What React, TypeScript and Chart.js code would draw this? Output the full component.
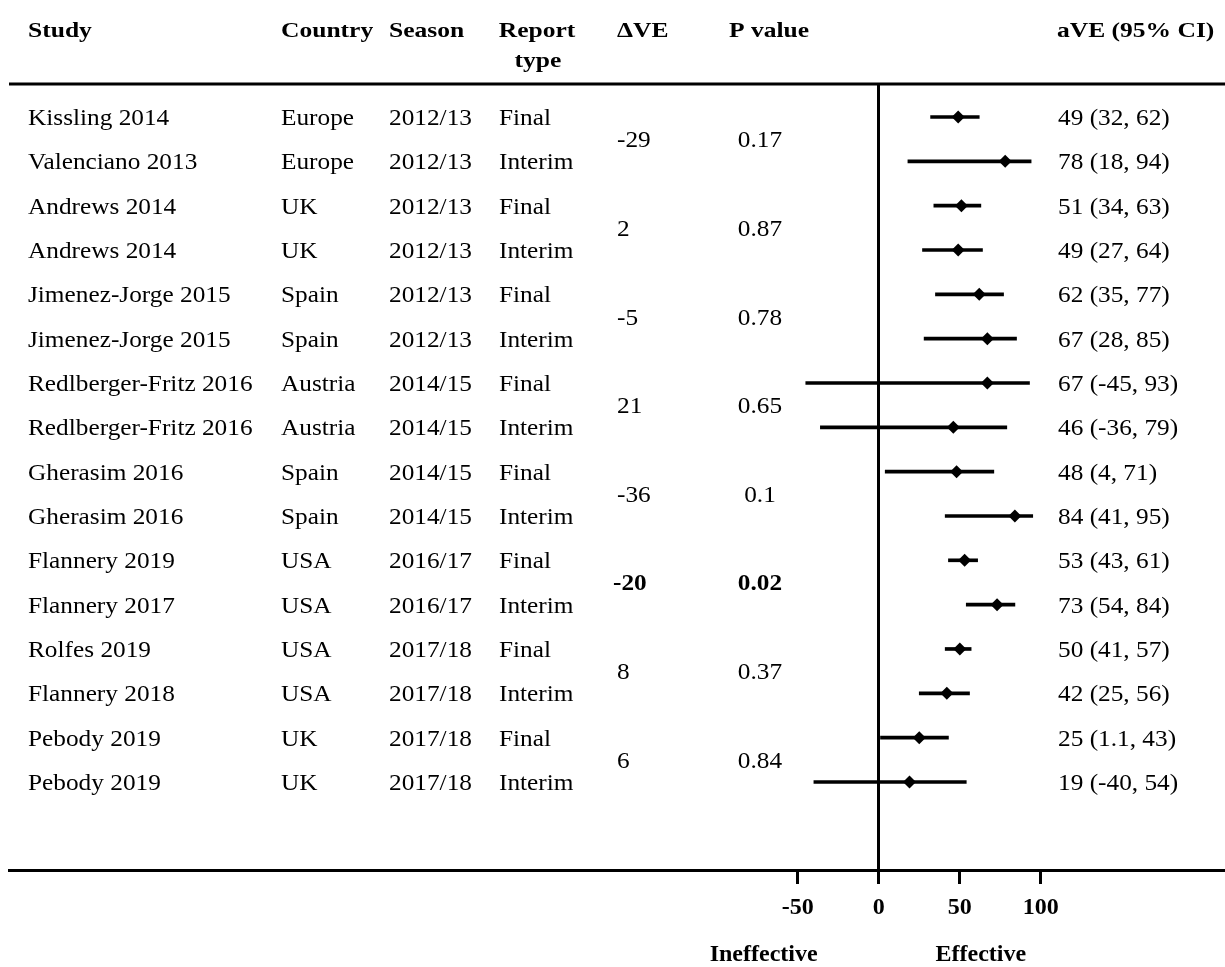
import React, { useEffect, useRef } from 'react';
import { Chart, registerables } from 'chart.js';

Chart.register(...registerables);

// ---------- data ----------
const studies = [
  'Kissling 2014', 'Valenciano 2013', 'Andrews 2014', 'Andrews 2014',
  'Jimenez-Jorge 2015', 'Jimenez-Jorge 2015', 'Redlberger-Fritz 2016', 'Redlberger-Fritz 2016',
  'Gherasim 2016', 'Gherasim 2016', 'Flannery 2019', 'Flannery 2017',
  'Rolfes 2019', 'Flannery 2018', 'Pebody 2019', 'Pebody 2019',
];
const countries = [
  'Europe', 'Europe', 'UK', 'UK', 'Spain', 'Spain', 'Austria', 'Austria',
  'Spain', 'Spain', 'USA', 'USA', 'USA', 'USA', 'UK', 'UK',
];
const seasons = [
  '2012/13', '2012/13', '2012/13', '2012/13', '2012/13', '2012/13', '2014/15', '2014/15',
  '2014/15', '2014/15', '2016/17', '2016/17', '2017/18', '2017/18', '2017/18', '2017/18',
];
const reportTypes = [
  'Final', 'Interim', 'Final', 'Interim', 'Final', 'Interim', 'Final', 'Interim',
  'Final', 'Interim', 'Final', 'Interim', 'Final', 'Interim', 'Final', 'Interim',
];
const aveValues = [49, 78, 51, 49, 62, 67, 67, 46, 48, 84, 53, 73, 50, 42, 25, 19];
const ciLower = [32, 18, 34, 27, 35, 28, -45, -36, 4, 41, 43, 54, 41, 25, 1.1, -40];
const ciUpper = [62, 94, 63, 64, 77, 85, 93, 79, 71, 95, 61, 84, 57, 56, 43, 54];
const deltaVE = ['-29', '2', '-5', '21', '-36', '-20', '8', '6'];
const pValues = ['0.17', '0.87', '0.78', '0.65', '0.1', '0.02', '0.37', '0.84'];
const significantPair = [false, false, false, false, false, true, false, false];
const xTickValues = [-50, 0, 50, 100];
const sideLabels = [
  { text: 'Ineffective', value: -71 },
  { text: 'Effective', value: 63 },
];

const SERIF = "'Liberation Serif', 'Times New Roman', serif";

function drawText(
  ctx: CanvasRenderingContext2D,
  text: string,
  x: number,
  y: number,
  opts: { bold?: boolean; size?: number; align?: CanvasTextAlign; sx?: number } = {}
) {
  const { bold = false, size = 23, align = 'left', sx = 1.1 } = opts;
  ctx.save();
  ctx.font = `${bold ? 'bold ' : ''}${size}px ${SERIF}`;
  ctx.textAlign = align;
  ctx.textBaseline = 'middle';
  ctx.fillStyle = '#000';
  ctx.translate(x, y);
  ctx.scale(sx, 1);
  ctx.fillText(text, 0, 0);
  ctx.restore();
}

const tablePlugin = {
  id: 'forestTable',
  afterDraw(chart: any) {
    const ctx: CanvasRenderingContext2D = chart.ctx;
    const { chartArea, scales } = chart;
    const xs = scales.x;
    const ys = scales.y;

    // top rule
    ctx.save();
    ctx.fillStyle = '#000';
    ctx.fillRect(chartArea.left, chartArea.top - 1.5, chartArea.right - chartArea.left, 3);
    ctx.restore();

    // headers
    const hy = 31;
    const hOpts = { bold: true, size: 22, sx: 1.16 };
    drawText(ctx, 'Study', 28, hy, hOpts);
    drawText(ctx, 'Country', 281, hy, hOpts);
    drawText(ctx, 'Season', 389, hy, hOpts);
    drawText(ctx, 'Report', 537, hy, { ...hOpts, align: 'center' });
    drawText(ctx, 'type', 538, hy + 30, { ...hOpts, align: 'center' });
    drawText(ctx, '\u0394VE', 617, hy, hOpts);
    drawText(ctx, 'P value', 729, hy, hOpts);
    drawText(ctx, 'aVE (95% CI)', 1057, hy, hOpts);

    // rows
    studies.forEach((s, i) => {
      const y = ys.getPixelForValue(i + 1) + 2;
      drawText(ctx, s, 28, y);
      drawText(ctx, countries[i], 281, y);
      drawText(ctx, seasons[i], 389, y);
      drawText(ctx, reportTypes[i], 499, y);
      drawText(ctx, `${aveValues[i]} (${ciLower[i]}, ${ciUpper[i]})`, 1058, y);
    });

    // pair statistics
    deltaVE.forEach((d, k) => {
      const y = (ys.getPixelForValue(2 * k + 1) + ys.getPixelForValue(2 * k + 2)) / 2 + 2;
      const bold = significantPair[k];
      drawText(ctx, d, bold ? 613 : 617, y, { bold });
      drawText(ctx, pValues[k], 760, y, { bold, align: 'center' });
    });

    // side labels under axis
    sideLabels.forEach((l) => {
      drawText(ctx, l.text, xs.getPixelForValue(l.value), 955, {
        bold: true,
        size: 24,
        sx: 1,
        align: 'center',
      });
    });
  },
};

export default function App() {
  const canvasRef = useRef<HTMLCanvasElement | null>(null);

  useEffect(() => {
    document.body.style.margin = '0';
    const canvas = canvasRef.current;
    if (!canvas) return;

    const chart = new Chart(canvas, {
      type: 'bar',
      data: {
        datasets: [
          {
            type: 'bar',
            indexAxis: 'y',
            data: aveValues.map((_, i) => ({ x: [ciLower[i], ciUpper[i]], y: i + 1 })),
            backgroundColor: '#000',
            borderWidth: 0,
            barThickness: 3,
          } as any,
          {
            type: 'scatter',
            data: aveValues.map((v, i) => ({ x: v, y: i + 1 })),
            pointStyle: 'rectRot',
            pointRadius: 6.5,
            pointHoverRadius: 6.5,
            backgroundColor: '#000',
            borderColor: '#000',
            borderWidth: 0,
          } as any,
        ],
      },
      options: {
        responsive: false,
        animation: false,
        layout: { autoPadding: false, padding: { left: 9, top: 84, right: 0, bottom: 0 } },
        plugins: {
          legend: { display: false },
          tooltip: { enabled: false },
        },
        scales: {
          x: {
            type: 'linear',
            position: 'bottom',
            min: -536.5,
            max: 213.6,
            offset: false,
            afterBuildTicks: (scale: any) => {
              scale.ticks = xTickValues.map((v) => ({ value: v }));
            },
            afterFit: (scale: any) => {
              scale.height = 97;
              scale.paddingLeft = 0;
              scale.paddingRight = 0;
            },
            border: { display: true, color: '#000', width: 3 },
            grid: {
              offset: false,
              drawOnChartArea: true,
              drawTicks: true,
              color: (c: any) => (c.tick && c.tick.value === 0 ? '#000' : 'rgba(0,0,0,0)'),
              lineWidth: 3,
              tickColor: '#000',
              tickWidth: 3,
              tickLength: 14,
            },
            ticks: {
              color: '#000',
              padding: 9,
              maxRotation: 0,
              autoSkip: false,
              font: { family: SERIF, size: 24, weight: 'bold' },
              callback: (v: any) => String(v),
            },
          },
          y: {
            type: 'linear',
            display: false,
            reverse: true,
            min: 0.2556,
            max: 17.986,
            offset: false,
          },
        },
      } as any,
      plugins: [tablePlugin],
    });

    return () => chart.destroy();
  }, []);

  return (
    <div style={{ position: 'relative', width: 1225, height: 967 }}>
      <canvas ref={canvasRef} width={1225} height={967} style={{ display: 'block' }} />
    </div>
  );
}
